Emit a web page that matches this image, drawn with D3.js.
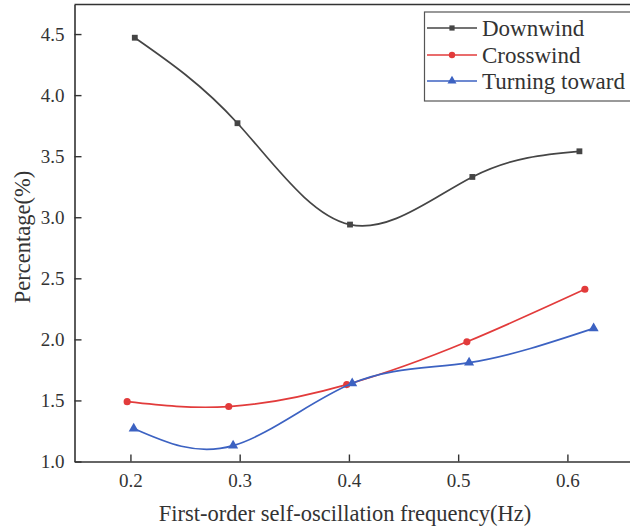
<!DOCTYPE html>
<html>
<head>
<meta charset="utf-8">
<script src="https://d3js.org/d3.v7.min.js"></script>
<style>
  html, body { margin: 0; padding: 0; background: #fff; }
  svg { display: block; font-family: "Liberation Serif", "Times New Roman", serif; }
</style>
</head>
<body>
<svg id="chart" width="630" height="531"></svg>
<script>
// values
const downX = [0.204, 0.298, 0.401, 0.513, 0.611];
const downY = [4.47, 3.77, 2.94, 3.33, 3.54];
const crossX = [0.197, 0.290, 0.398, 0.508, 0.616];
const crossY = [1.49, 1.45, 1.63, 1.98, 2.41];
const turnX = [0.203, 0.294, 0.403, 0.510, 0.624];
const turnY = [1.27, 1.13, 1.64, 1.81, 2.09];

const xTicks = [0.2, 0.3, 0.4, 0.5, 0.6];
const yTicks = [1.0, 1.5, 2.0, 2.5, 3.0, 3.5, 4.0, 4.5];

const seriesNames = ['Downwind', 'Crosswind', 'Turning toward'];
const seriesColors = ['#454545', '#e23b3b', '#3c62c2'];
const seriesMarkers = [d3.symbolSquare, d3.symbolCircle, d3.symbolTriangle];
const markerSizes = [34, 40, 44];

const svg = d3.select('#chart');
const plotLeft = 74.5, plotRight = 630, plotTop = 4.5, plotBottom = 461.5;

const x = d3.scaleLinear().domain([0.1488, 0.6573]).range([plotLeft, plotRight]);
const y = d3.scaleLinear().domain([1.0, 4.742]).range([plotBottom, plotTop]);

const series = [
    { xs: downX, ys: downY },
    { xs: crossX, ys: crossY },
    { xs: turnX, ys: turnY }
].map((s, i) => ({
    name: seriesNames[i],
    color: seriesColors[i],
    marker: seriesMarkers[i],
    size: markerSizes[i],
    points: s.xs.map((v, j) => ({ x: v, y: s.ys[j] }))
}));

// curves
const line = d3.line()
    .x(d => x(d.x))
    .y(d => y(d.y))
    .curve(d3.curveNatural);

const plot = svg.append('g');
series.forEach(s => {
    plot.append('path')
        .attr('d', line(s.points))
        .attr('fill', 'none')
        .attr('stroke', s.color)
        .attr('stroke-width', 1.7);
    plot.selectAll(null)
        .data(s.points)
        .join('path')
        .attr('transform', d => `translate(${x(d.x)},${y(d.y)})`)
        .attr('d', d3.symbol().type(s.marker).size(s.size))
        .attr('fill', s.color);
});

// axes (ticks point inward)
const xAxis = svg.append('g')
    .attr('transform', `translate(0,${plotBottom})`)
    .call(d3.axisBottom(x).tickValues(xTicks).tickFormat(d3.format('.1f'))
        .tickSizeInner(-7).tickSizeOuter(0).tickPadding(12));

const yAxis = svg.append('g')
    .attr('transform', `translate(${plotLeft},0)`)
    .call(d3.axisLeft(y).tickValues(yTicks).tickFormat(d3.format('.1f'))
        .tickSizeInner(-7).tickSizeOuter(0).tickPadding(10));

[xAxis, yAxis].forEach(a => {
    a.select('.domain').attr('stroke', '#333').attr('stroke-width', 1.6);
    a.selectAll('.tick line').attr('stroke', '#333').attr('stroke-width', 1.4);
    a.selectAll('.tick text')
        .attr('fill', '#333')
        .style('font-size', '19px')
        .style('font-family', '"Liberation Serif", "Times New Roman", serif');
});

// top frame line
svg.append('line')
    .attr('x1', plotLeft).attr('x2', plotRight)
    .attr('y1', plotTop).attr('y2', plotTop)
    .attr('stroke', '#333').attr('stroke-width', 1.6);

// axis titles
svg.append('text')
    .attr('x', 345).attr('y', 521)
    .attr('text-anchor', 'middle')
    .attr('fill', '#333')
    .style('font-size', '22.5px')
    .text('First-order self-oscillation frequency(Hz)');

svg.append('text')
    .attr('transform', 'translate(30,237) rotate(-90)')
    .attr('text-anchor', 'middle')
    .attr('fill', '#333')
    .style('font-size', '22.5px')
    .text('Percentage(%)');

// legend
const legend = svg.append('g');
legend.append('rect')
    .attr('x', 424.5).attr('y', 12)
    .attr('width', 240).attr('height', 89)
    .attr('fill', '#fff')
    .attr('stroke', '#555').attr('stroke-width', 1.2);

const rowY = [28, 55, 81];
series.forEach((s, i) => {
    const g = legend.append('g').attr('transform', `translate(0,${rowY[i]})`);
    g.append('line')
        .attr('x1', 427).attr('x2', 477)
        .attr('stroke', s.color).attr('stroke-width', 1.7);
    g.append('path')
        .attr('transform', 'translate(452,0)')
        .attr('d', d3.symbol().type(s.marker).size(s.size * 0.8))
        .attr('fill', s.color);
    g.append('text')
        .attr('x', 482).attr('y', 0)
        .attr('dy', '0.35em')
        .attr('fill', '#333')
        .style('font-size', '23px')
        .text(s.name);
});
</script>
</body>
</html>
